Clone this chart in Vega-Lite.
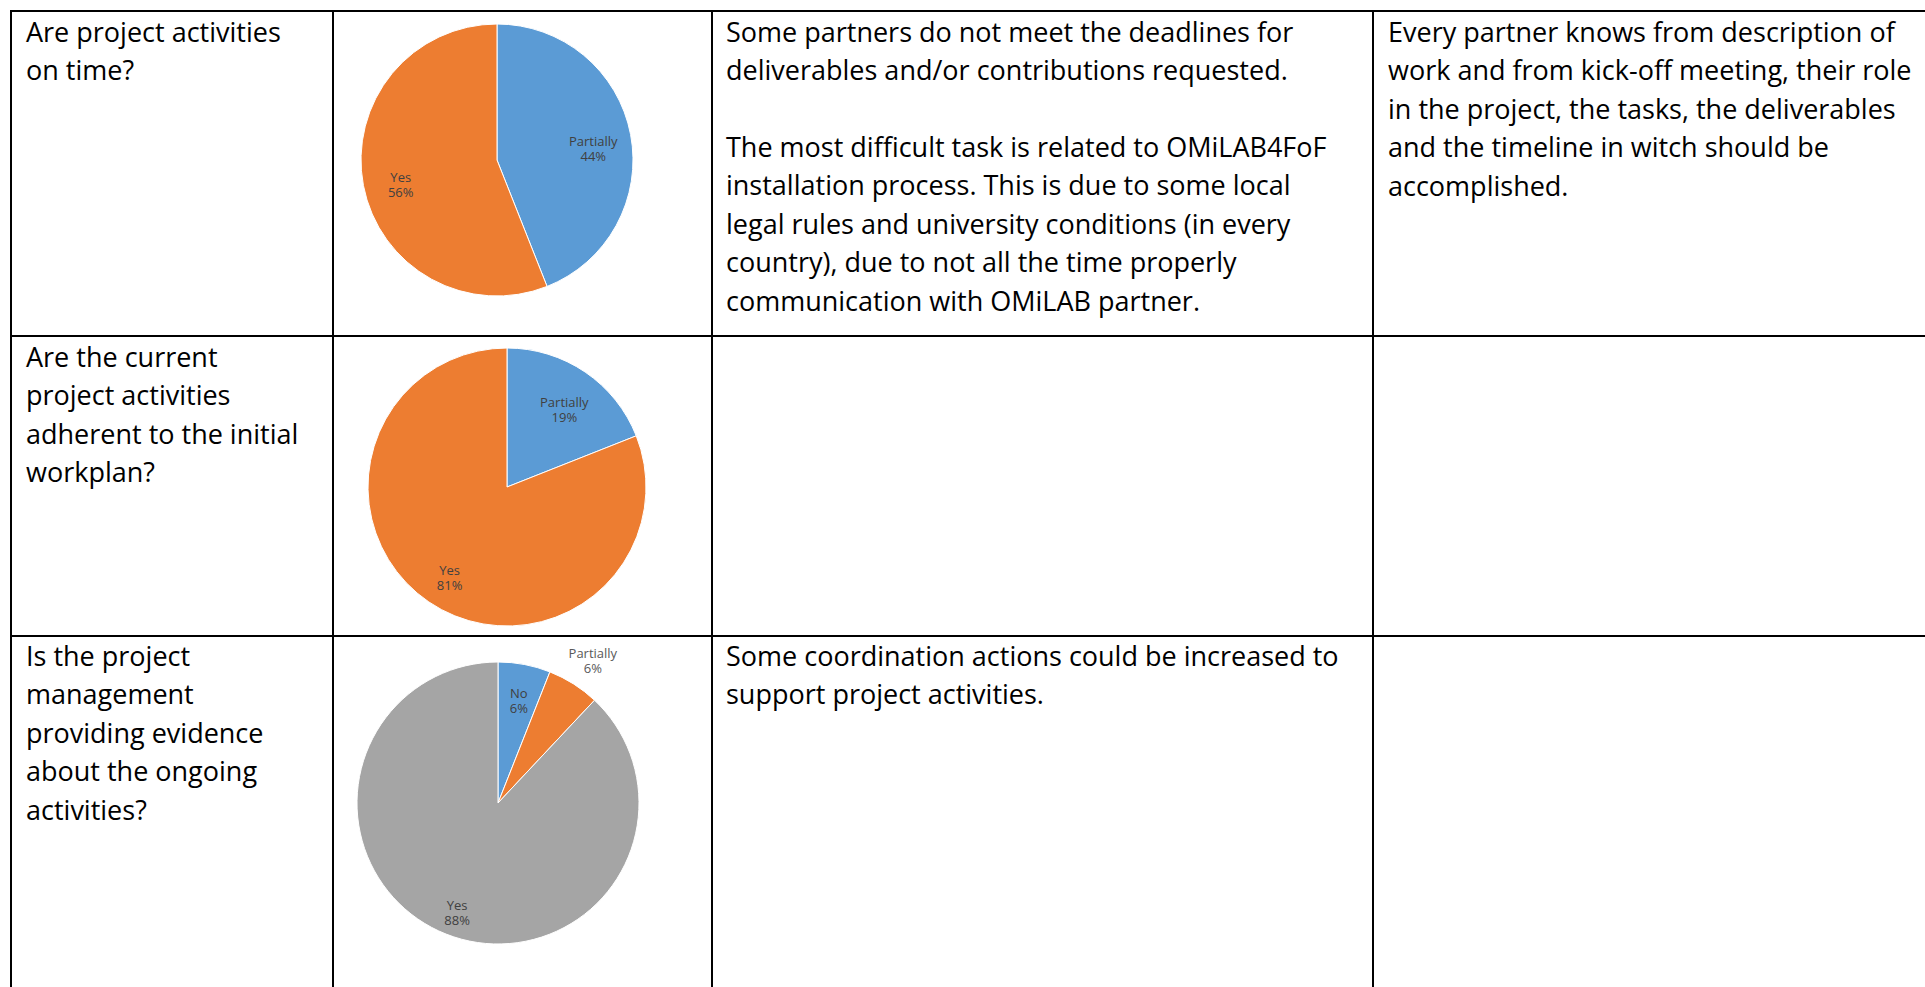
{
  "$schema": "https://vega.github.io/schema/vega-lite/v6.json",
  "background": "#ffffff",
  "padding": {"left": 10, "top": 10, "right": 0, "bottom": 0},
  "columns": 4,
  "spacing": 0,
  "bounds": "flush",
  "config": {
    "view": {"stroke": "#000000", "strokeWidth": 2},
    "concat": {"spacing": 0},
    "text": {"font": "Open Sans"}
  },
  "datasets": {
    "cells": [
      {"row": 1, "col": "q", "para": 1, "text": "Are project activities\non time?"},
      {"row": 1, "col": "c", "para": 1, "text": "Some partners do not meet the deadlines for\ndeliverables and/or contributions requested."},
      {"row": 1, "col": "c", "para": 2, "text": "The most difficult task is related to OMiLAB4FoF\ninstallation process. This is due to some local\nlegal rules and university conditions (in every\ncountry), due to not all the time properly\ncommunication with OMiLAB partner."},
      {"row": 1, "col": "d", "para": 1, "text": "Every partner knows from description of\nwork and from kick-off meeting, their role\nin the project, the tasks, the deliverables\nand the timeline in witch should be\naccomplished."},
      {"row": 2, "col": "q", "para": 1, "text": "Are the current\nproject activities\nadherent to the initial\nworkplan?"},
      {"row": 2, "col": "c", "para": 1, "text": ""},
      {"row": 2, "col": "d", "para": 1, "text": ""},
      {"row": 3, "col": "q", "para": 1, "text": "Is the project\nmanagement\nproviding evidence\nabout the ongoing\nactivities?"},
      {"row": 3, "col": "c", "para": 1, "text": "Some coordination actions could be increased to\nsupport project activities."},
      {"row": 3, "col": "d", "para": 1, "text": ""}
    ],
    "pies": [
      {"pie": 1, "idx": 1, "cat": "Partially", "pct": 44},
      {"pie": 1, "idx": 2, "cat": "Yes", "pct": 56},
      {"pie": 2, "idx": 1, "cat": "Partially", "pct": 19},
      {"pie": 2, "idx": 2, "cat": "Yes", "pct": 81},
      {"pie": 3, "idx": 1, "cat": "No", "pct": 6},
      {"pie": 3, "idx": 2, "cat": "Partially", "pct": 6},
      {"pie": 3, "idx": 3, "cat": "Yes", "pct": 88}
    ]
  },
  "concat": [
    {
      "width": 322, "height": 325,
      "data": {"name": "cells"},
      "transform": [{"filter": "datum.row == 1 && datum.col == 'q'"}],
      "mark": {"type": "text", "align": "left", "baseline": "alphabetic", "lineBreak": "\n", "lineHeight": 38.4, "fontSize": 27, "color": "#000000"},
      "encoding": {"text": {"field": "text", "type": "nominal"}, "x": {"value": 15}, "y": {"value": 31}}
    },
    {
      "width": 379, "height": 325,
      "data": {"name": "pies"},
      "transform": [
        {"filter": "datum.pie == 1"},
        {"stack": "pct", "groupby": [], "sort": [{"field": "idx", "order": "ascending"}], "as": ["s0", "s1"]},
        {"calculate": "(datum.s0 + datum.s1) / 2", "as": "mid"},
        {"calculate": "datum.cat + '\\n' + datum.pct + '%'", "as": "label"}
      ],
      "encoding": {"x": {"value": 164}, "y": {"value": 149}},
      "layer": [
        {
          "mark": {"type": "arc", "stroke": "#ffffff", "strokeWidth": 1},
          "encoding": {
            "theta": {"field": "s0", "type": "quantitative", "scale": {"domain": [0, 100]}},
            "theta2": {"field": "s1"},
            "radius": {"value": 136},
            "color": {"field": "idx", "type": "ordinal", "scale": {"domain": [1, 2, 3], "range": ["#5B9BD5", "#ED7D31", "#A5A5A5"]}, "legend": null}
          }
        },
        {
          "mark": {"type": "text", "lineBreak": "\n", "fontSize": 13, "fill": "#404040", "baseline": "middle", "align": "center"},
          "encoding": {
            "theta": {"field": "mid", "type": "quantitative", "scale": {"domain": [0, 100]}},
            "radius": {"value": 98},
            "text": {"field": "label", "type": "nominal"}
          }
        }
      ]
    },
    {
      "width": 661, "height": 325,
      "data": {"name": "cells"},
      "transform": [{"filter": "datum.row == 1 && datum.col == 'c'"}],
      "layer": [
        {
          "transform": [{"filter": "datum.para == 1"}],
          "mark": {"type": "text", "align": "left", "baseline": "alphabetic", "lineBreak": "\n", "lineHeight": 38.4, "fontSize": 27, "color": "#000000"},
          "encoding": {"text": {"field": "text", "type": "nominal"}, "x": {"value": 14}, "y": {"value": 31}}
        },
        {
          "transform": [{"filter": "datum.para == 2"}],
          "mark": {"type": "text", "align": "left", "baseline": "alphabetic", "lineBreak": "\n", "lineHeight": 38.4, "fontSize": 27, "color": "#000000"},
          "encoding": {"text": {"field": "text", "type": "nominal"}, "x": {"value": 14}, "y": {"value": 146}}
        }
      ]
    },
    {
      "width": 600, "height": 325,
      "data": {"name": "cells"},
      "transform": [{"filter": "datum.row == 1 && datum.col == 'd'"}],
      "mark": {"type": "text", "align": "left", "baseline": "alphabetic", "lineBreak": "\n", "lineHeight": 38.4, "fontSize": 27, "color": "#000000"},
      "encoding": {"text": {"field": "text", "type": "nominal"}, "x": {"value": 15}, "y": {"value": 31}}
    },
    {
      "width": 322, "height": 300,
      "data": {"name": "cells"},
      "transform": [{"filter": "datum.row == 2 && datum.col == 'q'"}],
      "mark": {"type": "text", "align": "left", "baseline": "alphabetic", "lineBreak": "\n", "lineHeight": 38.4, "fontSize": 27, "color": "#000000"},
      "encoding": {"text": {"field": "text", "type": "nominal"}, "x": {"value": 15}, "y": {"value": 31}}
    },
    {
      "width": 379, "height": 300,
      "data": {"name": "pies"},
      "transform": [
        {"filter": "datum.pie == 2"},
        {"stack": "pct", "groupby": [], "sort": [{"field": "idx", "order": "ascending"}], "as": ["s0", "s1"]},
        {"calculate": "(datum.s0 + datum.s1) / 2", "as": "mid"},
        {"calculate": "datum.cat + '\\n' + datum.pct + '%'", "as": "label"}
      ],
      "encoding": {"x": {"value": 174}, "y": {"value": 151}},
      "layer": [
        {
          "mark": {"type": "arc", "stroke": "#ffffff", "strokeWidth": 1},
          "encoding": {
            "theta": {"field": "s0", "type": "quantitative", "scale": {"domain": [0, 100]}},
            "theta2": {"field": "s1"},
            "radius": {"value": 139},
            "color": {"field": "idx", "type": "ordinal", "scale": {"domain": [1, 2, 3], "range": ["#5B9BD5", "#ED7D31", "#A5A5A5"]}, "legend": null}
          }
        },
        {
          "mark": {"type": "text", "lineBreak": "\n", "fontSize": 13, "fill": "#404040", "baseline": "middle", "align": "center"},
          "encoding": {
            "theta": {"field": "mid", "type": "quantitative", "scale": {"domain": [0, 100]}},
            "radius": {"value": 102},
            "text": {"field": "label", "type": "nominal"}
          }
        }
      ]
    },
    {
      "width": 661, "height": 300,
      "data": {"name": "cells"},
      "transform": [{"filter": "datum.row == 2 && datum.col == 'c'"}],
      "mark": {"type": "text", "align": "left", "baseline": "alphabetic", "lineBreak": "\n", "lineHeight": 38.4, "fontSize": 27, "color": "#000000"},
      "encoding": {"text": {"field": "text", "type": "nominal"}, "x": {"value": 14}, "y": {"value": 31}}
    },
    {
      "width": 600, "height": 300,
      "data": {"name": "cells"},
      "transform": [{"filter": "datum.row == 2 && datum.col == 'd'"}],
      "mark": {"type": "text", "align": "left", "baseline": "alphabetic", "lineBreak": "\n", "lineHeight": 38.4, "fontSize": 27, "color": "#000000"},
      "encoding": {"text": {"field": "text", "type": "nominal"}, "x": {"value": 15}, "y": {"value": 31}}
    },
    {
      "width": 322, "height": 400,
      "data": {"name": "cells"},
      "transform": [{"filter": "datum.row == 3 && datum.col == 'q'"}],
      "mark": {"type": "text", "align": "left", "baseline": "alphabetic", "lineBreak": "\n", "lineHeight": 38.4, "fontSize": 27, "color": "#000000"},
      "encoding": {"text": {"field": "text", "type": "nominal"}, "x": {"value": 15}, "y": {"value": 30}}
    },
    {
      "width": 379, "height": 400,
      "data": {"name": "pies"},
      "transform": [
        {"filter": "datum.pie == 3"},
        {"stack": "pct", "groupby": [], "sort": [{"field": "idx", "order": "ascending"}], "as": ["s0", "s1"]},
        {"calculate": "(datum.s0 + datum.s1) / 2", "as": "mid"},
        {"calculate": "datum.cat + '\\n' + datum.pct + '%'", "as": "label"}
      ],
      "encoding": {"x": {"value": 165}, "y": {"value": 167}},
      "layer": [
        {
          "mark": {"type": "arc", "stroke": "#ffffff", "strokeWidth": 1},
          "encoding": {
            "theta": {"field": "s0", "type": "quantitative", "scale": {"domain": [0, 100]}},
            "theta2": {"field": "s1"},
            "radius": {"value": 141},
            "color": {"field": "idx", "type": "ordinal", "scale": {"domain": [1, 2, 3], "range": ["#5B9BD5", "#ED7D31", "#A5A5A5"]}, "legend": null}
          }
        },
        {
          "transform": [{"filter": "datum.cat != 'Partially'"}],
          "mark": {"type": "text", "lineBreak": "\n", "fontSize": 13, "fill": "#404040", "baseline": "middle", "align": "center"},
          "encoding": {
            "theta": {"field": "mid", "type": "quantitative", "scale": {"domain": [0, 100]}},
            "radius": {"value": 111},
            "text": {"field": "label", "type": "nominal"}
          }
        },
        {
          "transform": [{"filter": "datum.cat == 'Partially'"}],
          "mark": {"type": "text", "lineBreak": "\n", "fontSize": 13, "fill": "#595959", "baseline": "middle", "align": "center"},
          "encoding": {
            "theta": {"field": "mid", "type": "quantitative", "scale": {"domain": [0, 100]}},
            "radius": {"value": 177},
            "text": {"field": "label", "type": "nominal"}
          }
        }
      ]
    },
    {
      "width": 661, "height": 400,
      "data": {"name": "cells"},
      "transform": [{"filter": "datum.row == 3 && datum.col == 'c'"}],
      "mark": {"type": "text", "align": "left", "baseline": "alphabetic", "lineBreak": "\n", "lineHeight": 38.4, "fontSize": 27, "color": "#000000"},
      "encoding": {"text": {"field": "text", "type": "nominal"}, "x": {"value": 14}, "y": {"value": 30}}
    },
    {
      "width": 600, "height": 400,
      "data": {"name": "cells"},
      "transform": [{"filter": "datum.row == 3 && datum.col == 'd'"}],
      "mark": {"type": "text", "align": "left", "baseline": "alphabetic", "lineBreak": "\n", "lineHeight": 38.4, "fontSize": 27, "color": "#000000"},
      "encoding": {"text": {"field": "text", "type": "nominal"}, "x": {"value": 15}, "y": {"value": 30}}
    }
  ]
}
